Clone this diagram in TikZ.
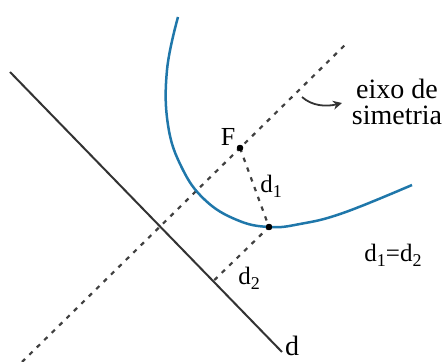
\documentclass[tikz,border=0pt]{standalone}
\usepackage{fontspec}
\setmainfont{Liberation Serif}
\usetikzlibrary{calc,arrows.meta}
\definecolor{parcol}{RGB}{31,119,170}
\newcommand{\dsub}[1]{d\raisebox{-0.45ex}{\fontsize{9}{9}\selectfont #1}}

\begin{document}
\begin{tikzpicture}[
    x=0.5pt,y=-0.5pt,
    lbl/.style={inner sep=0pt,font=\fontsize{12.5}{13}\selectfont},
    dirline/.style={line width=1pt,draw=black!80},
    axisline/.style={line width=1.1pt,dash pattern=on 2.2pt off 3pt,draw=black!75},
    curv/.style={line width=1.25pt,draw=parcol},
    pt/.style={circle,fill=black,inner sep=0pt,minimum size=3.2pt},
    arr/.style={-{Stealth[length=4.5pt,width=4.5pt]},line width=0.9pt,draw=black!80},
  ]
  \useasboundingbox (0,0) rectangle (443,362);
  % directriz e eixo
  \coordinate (D1) at (10,72);
  \coordinate (D2) at (282,352);
  \coordinate (A1) at (22,362);
  \coordinate (A2) at (348,42);
  \node[pt] (F) at (240,148) {};
  \node[pt] (P) at (269,227) {};
  \coordinate (Q) at ($(D1)!(P)!(D2)$);
  \draw[dirline] (D1) -- (D2);
  \draw[axisline] (A1) -- (F.center) -- (A2);
  % parabola
  \draw[curv] plot[smooth,tension=0.7] coordinates {(178,17) (167,70) (168,125) (182,168) (205,200) (237,220) (269,227) (300,224) (343,213) (412,185)};
  \draw[axisline] (F.center) -- (P.center) -- (Q);
  \node[pt] at (F) {};
  \node[pt] at (P) {};
  % textos
  \node[lbl,font=\fontsize{13}{13}\selectfont] (Flbl) at (228,137) {F};
  \node[lbl] (d1) at (271,186) {\dsub{1}};
  \node[lbl] (d2) at (249,278) {\dsub{2}};
  \node[lbl] (eq) at (393,255) {\dsub{1}=\dsub{2}};
  \node[lbl,font=\fontsize{14}{14}\selectfont] (dlbl) at (292,346) {d};
  \node[lbl,font=\fontsize{14}{13}\selectfont,align=center] (eixo) at (397,102) {eixo de\\simetria};
  \coordinate (as) at (302,97);
  \coordinate (ae) at (342,103);
  \draw[arr] (as) .. controls (312,106) and (326,107) .. (ae);
\end{tikzpicture}
\end{document}
